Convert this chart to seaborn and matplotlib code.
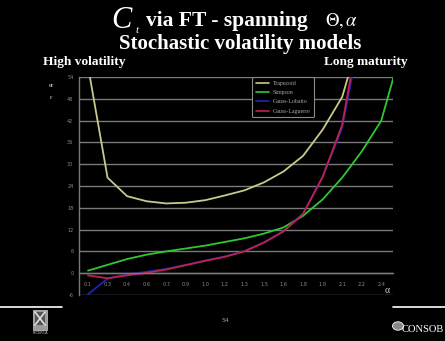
import matplotlib
matplotlib.use("Agg")
import matplotlib.pyplot as plt
import matplotlib.patches as mpatches
from matplotlib.lines import Line2D
import numpy as np
import pandas as pd
import seaborn as sns

# ---------------- data ----------------
alpha = [0.1, 0.25, 0.4, 0.55, 0.7, 0.85, 1.0, 1.15, 1.3, 1.45, 1.6, 1.75, 1.9, 2.05, 2.2, 2.35, 2.5]
trapezoid = [57, 26.3, 21.2, 19.8, 19.2, 19.4, 20.1, 21.4, 22.8, 25.0, 28.0, 32.3, 39.5, 48.5, 67, 95, 130]
simpson = [0.7, 2.3, 3.9, 5.1, 6.0, 6.8, 7.6, 8.6, 9.6, 10.9, 12.6, 15.8, 20.3, 26.3, 33.5, 42, 61]
gauss_lobatto = [-5.8, -1.5, -0.3, 0.4, 1.2, 2.3, 3.5, 4.6, 6.1, 8.5, 11.6, 16.4, 26.5, 40.0, 68, 110, 160]
gauss_laguerre = [-0.6, -1.4, -0.6, 0.1, 1.0, 2.2, 3.4, 4.5, 6.0, 8.4, 11.5, 16.3, 26.5, 40.8, 71, 108, 158]
series_names = ["Trapezoid", "Simpson", "Gauss-Lobatto", "Gauss-Laguerre"]
x_tick_values = [0.1, 0.25, 0.4, 0.55, 0.7, 0.85, 1.0, 1.15, 1.3, 1.45, 1.6, 1.75, 1.9, 2.05, 2.2, 2.35]
x_tick_labels = ["0.1", "0.3", "0.4", "0.6", "0.7", "0.9", "1.0", "1.2", "1.3", "1.5",
                 "1.6", "1.8", "1.9", "2.1", "2.2", "2.4"]
y_ticks = [-6, 0, 6, 12, 18, 24, 30, 36, 42, 48, 54]

df = pd.DataFrame({
    "alpha": alpha * 4,
    "value": trapezoid + simpson + gauss_lobatto + gauss_laguerre,
    "method": sum([[n] * len(alpha) for n in series_names], []),
})

palette = {"Trapezoid": "#c9c98e", "Simpson": "#2fc82f",
           "Gauss-Lobatto": "#2424b4", "Gauss-Laguerre": "#c0204e"}

# ---------------- style ----------------
sns.set_theme(style="dark")
plt.rcParams["font.family"] = ["Liberation Serif", "DejaVu Serif"]
plt.rcParams["mathtext.fontset"] = "stix"

W, H = 445, 341
fig = plt.figure(figsize=(W / 100, H / 100), dpi=100, facecolor="black")

def px(x, y):
    return x / W, 1 - y / H

l, r, t, b = 79, 393, 77, 295
ax = fig.add_axes([l / W, 1 - b / H, (r - l) / W, (b - t) / H])
ax.set_facecolor("black")

sns.lineplot(data=df, x="alpha", y="value", hue="method", hue_order=series_names,
             palette=palette, linewidth=1.3, ax=ax, legend=False, sort=False)

ax.set_xlim(0.031, 2.44)
ax.set_ylim(-6, 54)
for s in ["top", "right"]:
    ax.spines[s].set_visible(False)
ax.spines["bottom"].set_position(("data", 0))
ax.spines["bottom"].set_color("#7a7a7a")
ax.spines["bottom"].set_linewidth(1.0)
ax.spines["left"].set_color("#7a7a7a")
ax.spines["left"].set_linewidth(1.0)

ax.set_yticks(y_ticks)
ax.set_yticklabels([str(v) for v in y_ticks])
ax.set_xticks(x_tick_values)
ax.set_xticklabels(x_tick_labels)
ax.set_xticks([v + 0.075 for v in x_tick_values], minor=True)
ax.tick_params(axis="both", which="major", labelsize=3.6, labelcolor="#8a8a8a")
for lab in ax.get_xticklabels() + ax.get_yticklabels():
    lab.set_family("DejaVu Sans")
ax.tick_params(axis="x", which="major", length=0, pad=6)
ax.tick_params(axis="x", which="minor", length=2.5, direction="inout", color="#777777", width=0.8)
ax.tick_params(axis="y", length=0, pad=4)
ax.grid(False)
ax.yaxis.grid(True, color="#7a7a7a", linewidth=1.0)
ax.set_xlabel("")
ax.set_ylabel("")

handles = [Line2D([0], [0], color=palette[n], lw=1.2) for n in series_names]
leg = ax.legend(handles, series_names, loc="upper left", bbox_to_anchor=(0.551, 1.0),
                borderaxespad=0, fontsize=4.2, frameon=True, facecolor="black",
                edgecolor="#8a8a8a", handlelength=2.3, labelspacing=0.75,
                borderpad=0.6, handletextpad=0.7, framealpha=1)
for txt in leg.get_texts():
    txt.set_color("#a8a8a8")
leg.get_frame().set_linewidth(0.8)

# ---------------- slide texts ----------------
fig.text(*px(111, 28), "C", fontsize=22, style="italic", color="white", va="baseline")
fig.text(*px(136, 33), "t", fontsize=8, style="italic", color="white", va="baseline")
fig.text(*px(146, 26), "via FT - spanning", fontsize=15.5, weight="bold", color="white",
         va="baseline")
fig.text(*px(325, 26), r"$\Theta,\alpha$", fontsize=13.5, color="white", va="baseline")
fig.text(*px(240, 49), "Stochastic volatility models", fontsize=15, weight="bold",
         color="white", va="baseline", ha="center")
fig.text(*px(43, 65), "High volatility", fontsize=9.6, weight="bold", color="white",
         va="baseline")
fig.text(*px(408, 65), "Long maturity", fontsize=9.6, weight="bold", color="white",
         va="baseline", ha="right")
fig.text(*px(51, 87), "er", fontsize=5, color="#cccccc", va="baseline", ha="center")
fig.text(*px(51, 99), "r", fontsize=5, color="#cccccc", va="baseline", ha="center")
fig.text(*px(387, 293), "α", fontsize=7, color="#cccccc", va="baseline", ha="center")
fig.text(*px(226, 322), "54", fontsize=4.5, color="#9a9a9a", va="baseline", ha="center",
         family="DejaVu Sans")

# footer lines
fig.add_artist(Line2D([0, 62 / W], [1 - 306.5 / H] * 2, color="white", lw=1.2))
fig.add_artist(Line2D([393 / W, 1], [1 - 306.5 / H] * 2, color="white", lw=1.2))

# left logo
lx0, ly0 = 33, 310
fig.add_artist(mpatches.Rectangle(px(lx0, ly0 + 20), 14 / W, 20 / H, facecolor="#9a9a9a",
                                  edgecolor="#cccccc", lw=0.5))
fig.add_artist(mpatches.Rectangle(px(lx0 + 2, ly0 + 15), 10 / W, 13 / H, facecolor="#555555",
                                  edgecolor="none"))
fig.add_artist(Line2D([(lx0 + 2) / W, (lx0 + 12) / W], [1 - (ly0 + 2) / H, 1 - (ly0 + 15) / H],
                      color="#dddddd", lw=1.2))
fig.add_artist(Line2D([(lx0 + 2) / W, (lx0 + 12) / W], [1 - (ly0 + 15) / H, 1 - (ly0 + 2) / H],
                      color="#dddddd", lw=1.2))
fig.text(*px(lx0 + 7, ly0 + 24), "RICERCA", fontsize=2.5, color="#cccccc", ha="center",
         va="baseline", family="DejaVu Sans")

# right logo
fig.add_artist(mpatches.Circle(px(398, 326), 5.5 / W, facecolor="#888888", edgecolor="white",
                               lw=0.6))
fig.text(*px(444, 332), "CONSOB", fontsize=7.6, color="white", va="baseline", ha="right")

fig.savefig("out.png", dpi=100, facecolor="black")
